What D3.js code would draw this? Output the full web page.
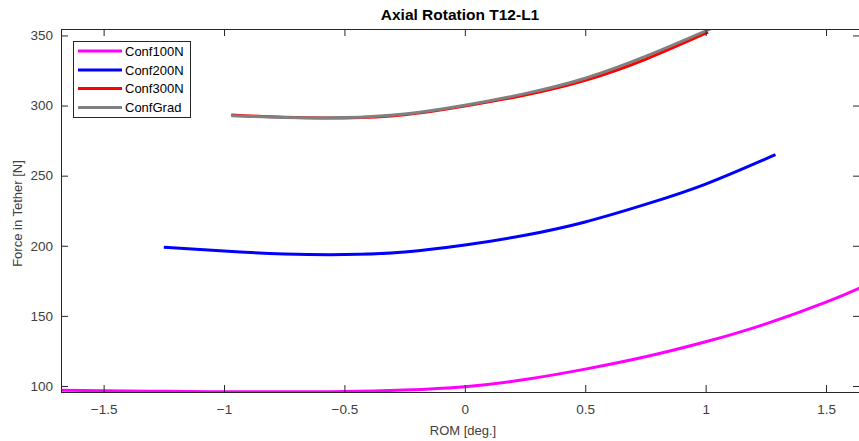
<!DOCTYPE html>
<html>
<head>
<meta charset="utf-8">
<script src="https://cdn.jsdelivr.net/npm/d3@7"></script>
<style>
  html, body { margin: 0; padding: 0; background: #fff; }
  svg { display: block; font-family: "Liberation Sans", Arial, Helvetica, sans-serif; }
</style>
</head>
<body>
<svg id="chart" width="859" height="441"></svg>
<script>
// Tether force vs. range of motion, axial rotation T12-L1
const seriesNames = ["Conf100N", "Conf200N", "Conf300N", "ConfGrad"];
const seriesColors = ["#ff00ff", "#0000ff", "#ff0000", "#808080"];

// ROM [deg.] and force [N] for each configuration
const conf100N_x = [-1.677, -1.5, -1.25, -1.0, -0.75, -0.5, -0.25, 0.0, 0.25, 0.5, 0.75, 1.0, 1.25, 1.5, 1.641];
const conf100N_y = [97.0, 96.6, 96.2, 95.9, 95.8, 96.0, 97.1, 99.5, 104.6, 112.0, 120.8, 131.5, 144.3, 159.8, 170.0];

const conf200N_x = [-1.25, -1.0, -0.75, -0.5, -0.25, 0.0, 0.25, 0.5, 0.75, 1.0, 1.29];
const conf200N_y = [199.0, 196.2, 194.2, 193.7, 195.6, 200.5, 207.5, 217.0, 229.5, 244.0, 265.0];

const conf300N_x = [-0.97, -0.75, -0.5, -0.25, 0.0, 0.25, 0.5, 0.75, 1.01];
const conf300N_y = [293.3, 291.6, 291.2, 293.5, 299.7, 307.5, 318.0, 333.0, 352.3];

const confGrad_x = [-0.97, -0.75, -0.5, -0.25, 0.0, 0.25, 0.5, 0.75, 1.025];
const confGrad_y = [292.8, 291.5, 291.4, 294.0, 300.2, 308.5, 319.5, 335.0, 355.0];

const xTicks = [-1.5, -1, -0.5, 0, 0.5, 1, 1.5];
const yTicks = [100, 150, 200, 250, 300, 350];

const seriesData = [
  d3.zip(conf100N_x, conf100N_y),
  d3.zip(conf200N_x, conf200N_y),
  d3.zip(conf300N_x, conf300N_y),
  d3.zip(confGrad_x, confGrad_y)
];

const svg = d3.select("#chart");
const plotLeft = 61, plotTop = 29, plotRight = 860, plotBottom = 392;

const x = d3.scaleLinear().domain([-1.677, 1.641]).range([plotLeft, plotRight]);
const y = d3.scaleLinear().domain([95.7, 354.6]).range([plotBottom, plotTop]);

const axisColor = "#262626";
const textColor = "#404040";
const tickLen = 7;

// clip region for the data lines
svg.append("defs").append("clipPath").attr("id", "plotClip")
  .append("rect")
  .attr("x", plotLeft).attr("y", plotTop)
  .attr("width", plotRight - plotLeft).attr("height", plotBottom - plotTop);

// data lines
const line = d3.line()
  .x(d => x(d[0]))
  .y(d => y(d[1]))
  .curve(d3.curveNatural);

svg.append("g").attr("clip-path", "url(#plotClip)")
  .selectAll("path")
  .data(seriesData)
  .join("path")
  .attr("d", line)
  .attr("fill", "none")
  .attr("stroke", (d, i) => seriesColors[i])
  .attr("stroke-width", 3)
  .attr("stroke-linejoin", "round");

// axes with inward ticks on all four sides (box on)
function styleAxis(g) {
  g.selectAll(".domain").remove();
  g.selectAll(".tick line").attr("stroke", axisColor);
  g.selectAll(".tick text")
    .attr("fill", textColor)
    .style("font-size", "13.5px");
}

svg.append("g")
  .attr("transform", `translate(0,${plotBottom})`)
  .call(d3.axisBottom(x).tickValues(xTicks).tickSizeInner(-tickLen).tickSizeOuter(0).tickPadding(12)
    .tickFormat(d3.format("~g")))
  .call(styleAxis);

svg.append("g")
  .attr("transform", `translate(0,${plotTop})`)
  .call(d3.axisTop(x).tickValues(xTicks).tickSizeInner(-tickLen).tickSizeOuter(0).tickFormat(""))
  .call(styleAxis);

svg.append("g")
  .attr("transform", `translate(${plotLeft},0)`)
  .call(d3.axisLeft(y).tickValues(yTicks).tickSizeInner(-tickLen).tickSizeOuter(0).tickPadding(8))
  .call(styleAxis);

svg.append("g")
  .attr("transform", `translate(${plotRight},0)`)
  .call(d3.axisRight(y).tickValues(yTicks).tickSizeInner(-tickLen).tickSizeOuter(0).tickFormat(""))
  .call(styleAxis);

// axes box
svg.append("rect")
  .attr("x", plotLeft + 0.5).attr("y", plotTop + 0.5)
  .attr("width", plotRight - plotLeft - 1).attr("height", plotBottom - plotTop)
  .attr("fill", "none")
  .attr("stroke", axisColor)
  .attr("stroke-width", 1);

// title and axis labels
svg.append("text")
  .attr("x", (plotLeft + 859) / 2).attr("y", 20)
  .attr("text-anchor", "middle")
  .attr("fill", "#000")
  .style("font-size", "15.5px")
  .style("font-weight", "bold")
  .text("Axial Rotation T12-L1");

svg.append("text")
  .attr("x", 463).attr("y", 435)
  .attr("text-anchor", "middle")
  .attr("fill", textColor)
  .style("font-size", "13px")
  .text("ROM [deg.]");

svg.append("text")
  .attr("transform", `translate(22,${(plotTop + plotBottom) / 2 + 3}) rotate(-90)`)
  .attr("text-anchor", "middle")
  .attr("fill", textColor)
  .style("font-size", "13px")
  .text("Force in Tether [N]");

// legend
const legend = svg.append("g");
legend.append("rect")
  .attr("x", 73.5).attr("y", 41.5)
  .attr("width", 117).attr("height", 76)
  .attr("fill", "#fff")
  .attr("stroke", axisColor)
  .attr("stroke-width", 1);

const legendRows = [51, 70, 88.5, 107.5];
seriesNames.forEach((name, i) => {
  legend.append("line")
    .attr("x1", 78).attr("x2", 122)
    .attr("y1", legendRows[i]).attr("y2", legendRows[i])
    .attr("stroke", seriesColors[i])
    .attr("stroke-width", 3);
  legend.append("text")
    .attr("x", 125).attr("y", legendRows[i] + 4.5)
    .attr("fill", "#000")
    .style("font-size", "13px")
    .text(name);
});
</script>
</body>
</html>
